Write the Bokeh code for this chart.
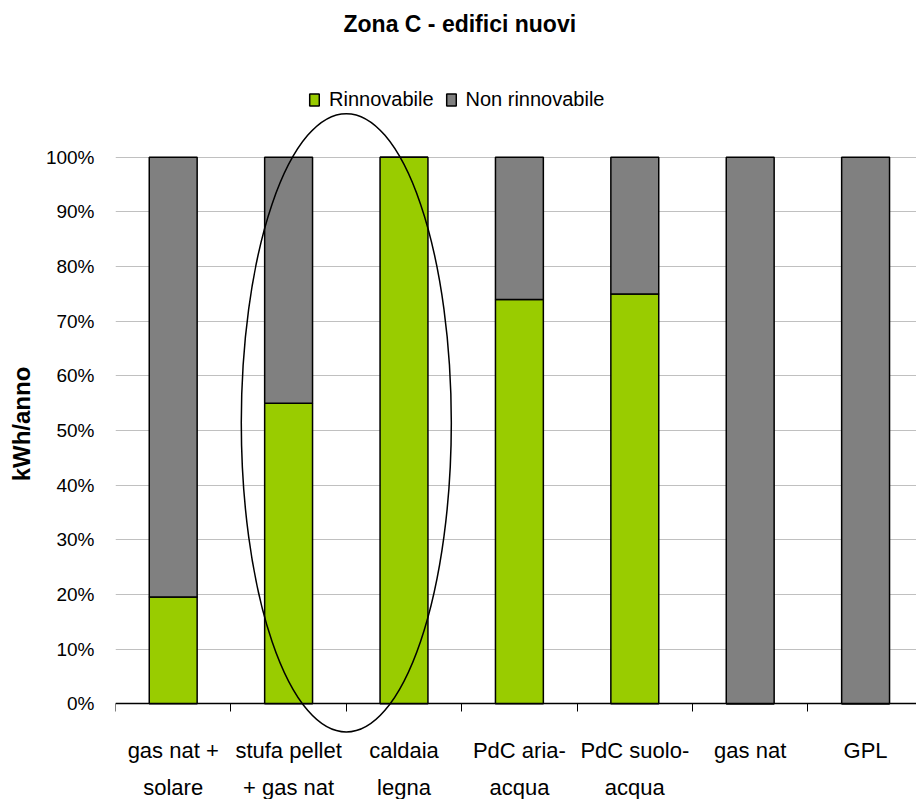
from bokeh.plotting import figure
from bokeh.models import ColumnDataSource, Range1d, FixedTicker
from bokeh.embed import file_html
from bokeh.resources import INLINE

# ---------------- data ----------------
title_text = "Zona C - edifici nuovi"
categories = ["gas nat +\nsolare", "stufa pellet\n+ gas nat", "caldaia\nlegna",
              "PdC aria-\nacqua", "PdC suolo-\nacqua", "gas nat", "GPL"]
rinnovabile = [19.5, 55.0, 100.0, 74.0, 75.0, 0.0, 0.0]
non_rinnovabile = [80.5, 45.0, 0.0, 26.0, 25.0, 100.0, 100.0]
series_names = ["Rinnovabile", "Non rinnovabile"]
y_ticks = [0, 10, 20, 30, 40, 50, 60, 70, 80, 90, 100]
y_tick_labels = ["0%", "10%", "20%", "30%", "40%", "50%", "60%", "70%", "80%", "90%", "100%"]
y_axis_label = "kWh/anno"
highlighted = ["stufa pellet\n+ gas nat", "caldaia\nlegna"]

# ---------------- layout / style ----------------
W, H = 916, 799
FRAME_LEFT, FRAME_TOP = 115, 47
CAT_PX = 115.4              # pixels per category
Y0_PX, Y100_PX = 703, 156   # canvas rows of 0% and 100%
PX_PER_PCT = (Y0_PX - Y100_PX) / 100.0

GREEN = "#99CC00"
GRAY = "#808080"
FONT = "Liberation Sans"

def px_to_y(py):
    return (Y0_PX - py) / PX_PER_PCT

x_end = (W - FRAME_LEFT) / CAT_PX
y_start = px_to_y(H)
y_end = px_to_y(FRAME_TOP)

n = len(categories)
centers = [i + 0.5 for i in range(n)]
boundaries = list(range(n + 1))

p = figure(width=W, height=H, x_range=Range1d(0, x_end), y_range=Range1d(y_start, y_end),
           output_backend="svg", toolbar_location=None,
           min_border_left=FRAME_LEFT, min_border_right=0,
           min_border_top=FRAME_TOP, min_border_bottom=0)
p.outline_line_color = None
p.background_fill_color = "white"
p.border_fill_color = "white"
p.xgrid.visible = False

# title
p.title.text = title_text
p.title.align = "left"
p.title.vertical_align = "top"
p.title.offset = 228
p.title.standoff = 20
p.title.text_font = FONT
p.title.text_font_style = "bold"
p.title.text_font_size = "23px"
p.title.text_color = "black"

# y axis
yax = p.yaxis[0]
yax.ticker = FixedTicker(ticks=y_ticks)
yax.major_label_overrides = dict(zip(y_ticks, y_tick_labels))
yax.axis_line_color = None
yax.major_tick_line_color = None
yax.minor_tick_line_color = None
yax.major_tick_in = 0
yax.major_tick_out = 0
yax.major_label_standoff = 21
yax.major_label_text_font = FONT
yax.major_label_text_font_size = "19px"
yax.major_label_text_color = "black"
yax.axis_label = y_axis_label
yax.axis_label_text_font = FONT
yax.axis_label_text_font_style = "bold"
yax.axis_label_text_font_size = "24px"
yax.axis_label_text_color = "black"
yax.axis_label_standoff = 8

p.ygrid[0].ticker = FixedTicker(ticks=y_ticks)
p.ygrid[0].grid_line_color = "#C0C0C0"
p.ygrid[0].grid_line_width = 1.2

# x axis
xax = p.xaxis[0]
xax.fixed_location = 0
xax.ticker = FixedTicker(ticks=centers, minor_ticks=boundaries)
xax.major_label_overrides = dict(zip(centers, categories))
xax.major_tick_line_color = None
xax.major_tick_in = 0
xax.major_tick_out = 0
xax.minor_tick_in = 0
xax.minor_tick_out = 8
xax.minor_tick_line_color = "black"
xax.minor_tick_line_width = 1
xax.axis_line_color = "black"
xax.axis_line_width = 1.5
xax.major_label_standoff = 26
xax.major_label_text_font = FONT
xax.major_label_text_font_size = "22px"
xax.major_label_text_color = "black"
xax.major_label_text_line_height = 1.5

# bars
data = {"x": centers}
data[series_names[0]] = rinnovabile
data[series_names[1]] = non_rinnovabile
source = ColumnDataSource(data)
p.vbar_stack(series_names, x="x", width=0.415, fill_color=[GREEN, GRAY],
             line_color="black", line_width=1.5, source=source,
             legend_label=series_names)

# highlight ellipse around two categories
i1 = categories.index(highlighted[0])
i2 = categories.index(highlighted[1])
ell_x = (centers[i1] + centers[i2]) / 2
ell_w = (centers[i2] - centers[i1]) + 0.82
ell_bottom, ell_top = -5.2, 108.0
p.ellipse(x=[ell_x], y=[(ell_bottom + ell_top) / 2], width=[ell_w],
          height=[ell_top - ell_bottom], fill_color=None,
          line_color="black", line_width=1.5)

# legend
leg = p.legend[0]
leg.location = (193, 685)
leg.orientation = "horizontal"
leg.background_fill_alpha = 0
leg.border_line_color = None
leg.padding = 0
leg.margin = 0
leg.spacing = 11
leg.label_standoff = 9
leg.glyph_width = 12
leg.glyph_height = 15
leg.label_height = 30
leg.label_text_font = FONT
leg.label_text_font_size = "20px"
leg.label_text_color = "black"

open("out.html", "w").write(file_html(p, INLINE))
